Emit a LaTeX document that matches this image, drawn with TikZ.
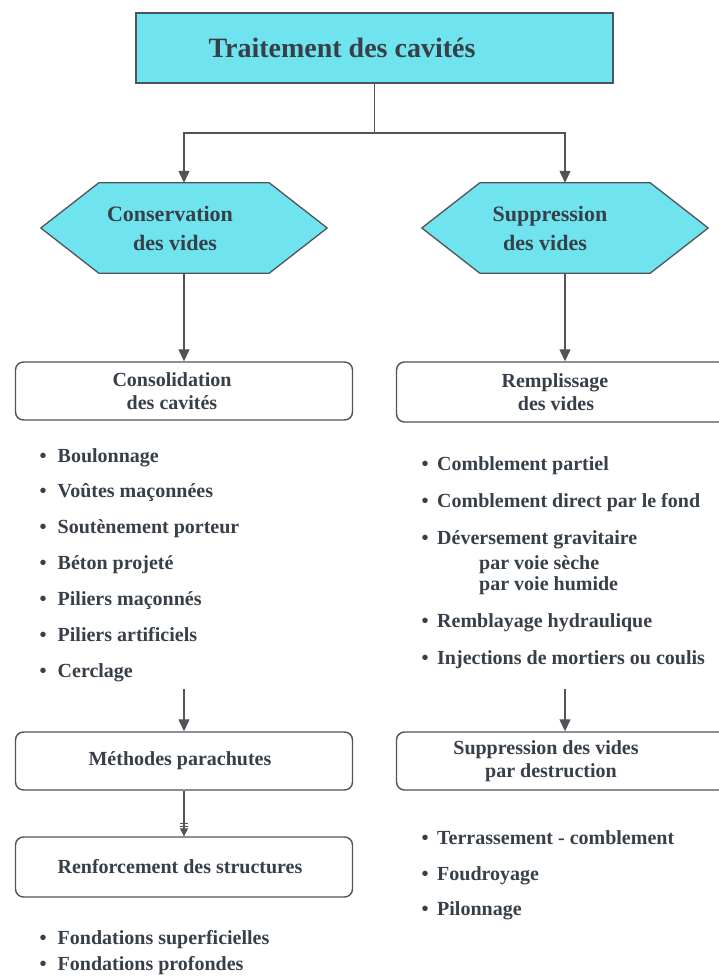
\documentclass[tikz,border=0pt]{standalone}
\usepackage{fontspec}
\setmainfont{Liberation Serif}
\usetikzlibrary{arrows.meta,backgrounds,calc}
\definecolor{cyanfill}{RGB}{112,228,238}
\definecolor{txt}{RGB}{55,63,72}
\definecolor{ln}{RGB}{80,83,88}
\begin{document}
\begin{tikzpicture}[x=1pt,y=-1pt,
  every node/.style={text=txt},
  topbox/.style={draw=ln, line width=1.5pt, fill=cyanfill, minimum width=477pt, minimum height=70pt, inner sep=0pt, font=\bfseries\fontsize{28}{32}\selectfont},
  hexnode/.style={minimum width=286pt, minimum height=90pt, inner sep=0pt, align=center, font=\bfseries\fontsize{22}{29}\selectfont},
  hexs/.style={draw=ln, line width=1.3pt, fill=cyanfill, line join=round},
  rbox/.style={draw=ln, line width=1.4pt, rounded corners=8pt, fill=white, minimum width=337pt, minimum height=58pt, inner sep=0pt, align=center, font=\bfseries\fontsize{20}{23}\selectfont},
  item/.style={anchor=base west, inner sep=0pt, font=\bfseries\fontsize{20}{24}\selectfont},
  conn/.style={draw=ln, line width=1.3pt},
  arr/.style={conn, -{Triangle[width=11pt,length=12pt]}},
]
\useasboundingbox (0,0) rectangle (718,976);

% top box
\node[topbox] (top) at (374.5,48) {Traitement des cavités\hspace*{65pt}};

% hexagons
\node[hexnode] (cons) at (184,228) {Conservation\hspace*{28pt}\\des vides\hspace*{18pt}};
\node[hexnode] (supp) at (565,228) {Suppression\hspace*{30pt}\\des vides\hspace*{40pt}};
\begin{scope}[on background layer]
\foreach \n in {cons,supp}
  \draw[hexs] (\n.west) -- ([xshift=58pt]\n.north west) -- ([xshift=-58pt]\n.north east) -- (\n.east) -- ([xshift=-58pt]\n.south east) -- ([xshift=58pt]\n.south west) -- cycle;
\end{scope}

% rounded boxes
\node[rbox] (consol) at (184,391) {Consolidation\hspace*{24pt}\\des cavités\hspace*{24pt}};
\node[rbox, minimum height=60pt] (remp) at (565,392) {Remplissage\hspace*{20pt}\\des vides\hspace*{18pt}};
\node[rbox] (meth) at (184,761) {Méthodes parachutes\hspace*{8pt}};
\node[rbox, minimum height=60pt] (renf) at (184,867) {Renforcement des structures\hspace*{8pt}};
\node[rbox] (destr) at (565,761) {Suppression des vides\hspace*{38pt}\\par destruction\hspace*{28pt}};

% connectors
\coordinate (j) at (374.5,133);
\draw[conn] (top.south) -- (j);
\draw[arr] (j) -| (cons.north);
\draw[arr] (j) -| (supp.north);
\draw[arr] (cons.south) -- (consol.north);
\draw[arr] (supp.south) -- (remp.north);
\coordinate (l1) at (184,689);
\draw[arr] (l1) -- (meth.north);
\coordinate (r1) at (565,689);
\draw[arr] (r1) -- (destr.north);
\draw[conn, -{Triangle[width=8pt,length=8pt]}] (meth.south) -- (renf.north);
\draw[conn, line width=1pt] ([xshift=-4pt,yshift=13pt]renf.north) -- ([xshift=4pt,yshift=13pt]renf.north);
\draw[conn, line width=1pt] ([xshift=-4pt,yshift=10pt]renf.north) -- ([xshift=4pt,yshift=10pt]renf.north);

% left list
\node[item] (a1) at (39.5,462) {•\hspace{11pt}Boulonnage};
\node[item] (a2) at (39.5,497) {•\hspace{11pt}Voûtes maçonnées};
\node[item] (a3) at (39.5,533) {•\hspace{11pt}Soutènement porteur};
\node[item] (a4) at (39.5,569) {•\hspace{11pt}Béton projeté};
\node[item] (a5) at (39.5,605) {•\hspace{11pt}Piliers maçonnés};
\node[item] (a6) at (39.5,641) {•\hspace{11pt}Piliers artificiels};
\node[item] (a7) at (39.5,677) {•\hspace{11pt}Cerclage};

% right list
\node[item] (b1) at (421.5,470) {•\hspace{8.5pt}Comblement partiel};
\node[item] (b2) at (421.5,507) {•\hspace{8.5pt}Comblement direct par le fond};
\node[item] (b3) at (421.5,544) {•\hspace{8.5pt}Déversement gravitaire};
\node[item] (b3a) at (479,569) {par voie sèche};
\node[item] (b3b) at (479,590) {par voie humide};
\node[item] (b4) at (421.5,627) {•\hspace{8.5pt}Remblayage hydraulique};
\node[item] (b5) at (421.5,664) {•\hspace{8.5pt}Injections de mortiers ou coulis};

% right bottom list
\node[item] (c1) at (421.5,844) {•\hspace{8.5pt}Terrassement - comblement};
\node[item] (c2) at (421.5,880) {•\hspace{8.5pt}Foudroyage};
\node[item] (c3) at (421.5,915) {•\hspace{8.5pt}Pilonnage};

% left bottom list
\node[item] (d1) at (39.5,944) {•\hspace{11pt}Fondations superficielles};
\node[item] (d2) at (39.5,970) {•\hspace{11pt}Fondations profondes};
\end{tikzpicture}
\end{document}
